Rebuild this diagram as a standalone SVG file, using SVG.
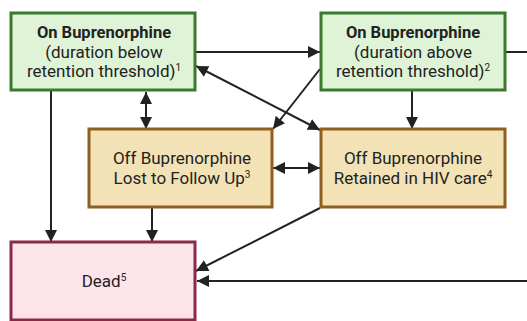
<svg xmlns="http://www.w3.org/2000/svg" width="527" height="321" viewBox="0 0 527 321">
<style>
.t{font-family:Roboto,"Liberation Sans",sans-serif;font-size:17px;fill:#222;text-anchor:middle}
.b{font-weight:bold;font-size:16.5px}
.s{font-size:10px}
.green{fill:#dff3d6;stroke:#3a7a2c;stroke-width:3}
.tan{fill:#f2e2b6;stroke:#8f5f20;stroke-width:3}
.dead{fill:#fce4ea;stroke:#8b2a47;stroke-width:3}
.c{stroke:#222;stroke-width:2;fill:none}
.a{marker-end:url(#ah)}
.d{marker-start:url(#ah);marker-end:url(#ah)}
</style>
<defs>
<marker id="ah" markerUnits="userSpaceOnUse" markerWidth="13" markerHeight="13" viewBox="0 0 13 13" refX="12" refY="6.5" orient="auto-start-reverse">
<path d="M0,0.5 L12,6.5 L0,12.5 Z" fill="#222"/>
</marker>
</defs>
<g id="connectors">
<line class="c a" x1="196" y1="52" x2="320" y2="52"/>
<line class="c" x1="506" y1="52" x2="527" y2="52"/>
<line class="c a" x1="527" y1="281" x2="197" y2="281"/>
<line class="c a" x1="51" y1="91" x2="51" y2="242"/>
<line class="c d" x1="146" y1="92" x2="146" y2="129"/>
<line class="c a" x1="152" y1="208" x2="152" y2="242"/>
<line class="c d" x1="273" y1="168" x2="320" y2="168"/>
<line class="c a" x1="412" y1="91" x2="412" y2="129"/>
<line class="c a" x1="320" y1="69" x2="273" y2="129"/>
<line class="c d" x1="196" y1="66" x2="320" y2="130"/>
<line class="c a" x1="320" y1="208" x2="196" y2="271"/>
</g>
<g id="onBupBelow">
<rect class="green" x="11" y="13" width="184" height="77"/>
<text class="t b" x="104" y="38">On Buprenorphine</text>
<text class="t" x="104" y="58">(duration below</text>
<text class="t" x="104" y="77">retention threshold)<tspan class="s" dy="-6">1</tspan></text>
</g>
<g id="onBupAbove">
<rect class="green" x="321" y="13" width="184" height="77"/>
<text class="t b" x="413" y="38">On Buprenorphine</text>
<text class="t" x="413" y="58">(duration above</text>
<text class="t" x="413" y="77">retention threshold)<tspan class="s" dy="-6">2</tspan></text>
</g>
<g id="offLost">
<rect class="tan" x="89" y="129" width="183" height="78"/>
<text class="t" x="182" y="164">Off Buprenorphine</text>
<text class="t" x="182" y="184">Lost to Follow Up<tspan class="s" dy="-6">3</tspan></text>
</g>
<g id="offRetained">
<rect class="tan" x="321" y="129" width="184" height="78"/>
<text class="t" x="413" y="164">Off Buprenorphine</text>
<text class="t" x="413" y="184">Retained in HIV care<tspan class="s" dy="-6">4</tspan></text>
</g>
<g id="dead">
<rect class="dead" x="11" y="242" width="184" height="78"/>
<text class="t" x="104" y="287">Dead<tspan class="s" dy="-6">5</tspan></text>
</g>
</svg>
